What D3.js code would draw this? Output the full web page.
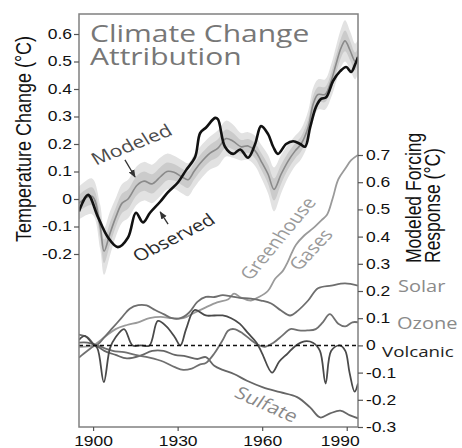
<!DOCTYPE html>
<html>
<head>
<meta charset="utf-8">
<script src="https://cdn.jsdelivr.net/npm/d3@7"></script>
<style>
  body { margin: 0; background: #fff; }
  svg { display: block; }
</style>
</head>
<body>
<div id="container"></div>
<script>
// ---- data ----
const obsYears = [1895, 1898.2, 1901.7, 1905.3, 1908.8, 1912.4, 1915.2, 1917.7, 1920.2, 1923.8, 1926.6, 1930.1, 1933.0, 1936.2, 1938.0, 1940.1, 1943.3, 1944.3, 1946.8, 1949.7, 1952.2, 1955.0, 1957.5, 1959.6, 1962.1, 1963.9, 1965.6, 1968.5, 1971.0, 1973.5, 1975.2, 1977.0, 1979.1, 1980.9, 1982.7, 1985.2, 1987.7, 1989.8, 1991.6, 1993.0, 1994.0];
const obsValues = [-0.045, 0.015, -0.065, -0.14, -0.175, -0.14, -0.05, -0.085, -0.05, -0.01, 0.025, 0.06, 0.105, 0.153, 0.24, 0.26, 0.295, 0.29, 0.19, 0.164, 0.18, 0.15, 0.2, 0.265, 0.236, 0.19, 0.164, 0.2, 0.21, 0.2, 0.19, 0.26, 0.335, 0.364, 0.37, 0.43, 0.465, 0.48, 0.462, 0.49, 0.516];

const modYears = [1895, 1899.6, 1902.5, 1903.9, 1906, 1908.1, 1910.3, 1912.4, 1915.6, 1918.1, 1920.9, 1923.8, 1926.2, 1928.7, 1931.6, 1933.7, 1935.8, 1938, 1941.5, 1944.3, 1947.2, 1949.7, 1952.5, 1955, 1957.5, 1959.6, 1962.1, 1964.2, 1966.7, 1969.2, 1971.7, 1973.8, 1976.3, 1978.1, 1979.8, 1982.3, 1984.5, 1986.2, 1988, 1989.4, 1991.2, 1993, 1994];
const modValues = [-0.015, 0.01, -0.1, -0.19, -0.125, -0.065, -0.015, 0.0, 0.05, 0.065, 0.055, 0.08, 0.1, 0.097, 0.08, 0.07, 0.1, 0.13, 0.167, 0.185, 0.22, 0.21, 0.19, 0.193, 0.175, 0.138, 0.09, 0.035, 0.09, 0.138, 0.175, 0.2, 0.26, 0.345, 0.38, 0.38, 0.43, 0.49, 0.55, 0.575, 0.54, 0.5, 0.52];
const modSpread = [0.06, 0.065, 0.08, 0.085, 0.08, 0.07, 0.07, 0.07, 0.07, 0.07, 0.07, 0.07, 0.065, 0.06, 0.06, 0.06, 0.06, 0.06, 0.06, 0.065, 0.065, 0.06, 0.05, 0.05, 0.055, 0.06, 0.07, 0.08, 0.07, 0.06, 0.055, 0.055, 0.06, 0.06, 0.055, 0.055, 0.06, 0.065, 0.07, 0.075, 0.07, 0.065, 0.06];

const ghgYears = [1895, 1900, 1904, 1908, 1912, 1916, 1920, 1924, 1928, 1932, 1936, 1940, 1944, 1948, 1950, 1952.5, 1956, 1958.5, 1962, 1964.6, 1967.4, 1969, 1970.5, 1972, 1975, 1978, 1981, 1983, 1985, 1987, 1989.5, 1991.5, 1994];
const ghgValues = [-0.005, 0.0, 0.03, 0.06, 0.075, 0.085, 0.1, 0.105, 0.1, 0.1, 0.12, 0.14, 0.158, 0.17, 0.19, 0.176, 0.165, 0.176, 0.2, 0.245, 0.275, 0.305, 0.34, 0.37, 0.405, 0.43, 0.46, 0.48, 0.54, 0.61, 0.65, 0.68, 0.7];

const solarYears = [1895, 1898, 1901, 1904, 1907, 1910, 1913, 1916, 1919, 1922, 1925, 1928, 1931, 1934, 1937, 1940, 1943, 1946, 1949, 1952, 1956, 1959.6, 1963.2, 1966.7, 1969.9, 1972.7, 1976.3, 1979.8, 1984.5, 1989.4, 1994];
const solarValues = [0.04, 0.03, 0.0, 0.03, 0.065, 0.1, 0.135, 0.148, 0.147, 0.13, 0.115, 0.1, 0.1, 0.12, 0.16, 0.178, 0.178, 0.185, 0.18, 0.175, 0.172, 0.165, 0.154, 0.128, 0.11, 0.128, 0.165, 0.21, 0.22, 0.228, 0.22];

const ozoneYears = [1895, 1898, 1901, 1904, 1907, 1911, 1915, 1920, 1925, 1929, 1932, 1935, 1938, 1940, 1943, 1946, 1948, 1950, 1953, 1956, 1959, 1961, 1964, 1967, 1970, 1973, 1976, 1979, 1981.5, 1984, 1987, 1989.5, 1992, 1994];
const ozoneValues = [-0.045, -0.02, 0.0, -0.01, -0.02, -0.025, -0.035, -0.045, -0.06, -0.08, -0.09, -0.085, -0.07, -0.065, -0.03, 0.02, 0.055, 0.06, 0.045, 0.02, 0.0, -0.005, 0.01, 0.035, 0.06, 0.055, 0.055, 0.06, 0.085, 0.115, 0.08, 0.07, 0.085, 0.085];

const volcYears = [1895, 1897, 1899.5, 1901.5, 1903.8, 1906, 1908, 1911, 1914, 1917, 1920, 1923, 1926, 1929, 1931, 1933, 1936, 1940, 1943, 1946, 1949, 1952, 1955, 1958, 1960, 1963.5, 1966, 1969, 1972, 1975, 1978, 1980.5, 1982.5, 1984.5, 1987.5, 1989.5, 1991, 1992.8, 1994];
const volcValues = [0.02, 0.035, 0.01, -0.01, -0.135, -0.01, 0.03, 0.06, 0.0, 0.0, 0.0, 0.09, 0.07, 0.03, 0.0, 0.06, 0.13, 0.11, 0.11, 0.11, 0.1, 0.08, 0.045, 0.01, -0.03, -0.1, -0.06, -0.03, 0.0, 0.015, 0.01, -0.02, -0.14, -0.02, 0.0, -0.02, -0.1, -0.17, -0.14];

const sulfYears = [1895, 1898, 1901, 1904, 1908, 1912, 1917, 1921, 1925, 1929, 1933, 1937, 1940, 1943, 1946, 1950, 1954.6, 1960.3, 1966.4, 1972.4, 1977, 1980.6, 1984.1, 1987.7, 1991.2, 1994];
const sulfValues = [0.01, 0.01, 0.0, -0.02, -0.035, -0.048, -0.037, -0.02, -0.02, -0.035, -0.04, -0.05, -0.043, -0.075, -0.09, -0.105, -0.13, -0.154, -0.172, -0.19, -0.228, -0.265, -0.25, -0.24, -0.257, -0.268];

const xTicks = [1900, 1930, 1960, 1990];
const leftTicks = [-0.2, -0.1, 0, 0.1, 0.2, 0.3, 0.4, 0.5, 0.6];
const rightTicks = [-0.3, -0.2, -0.1, 0, 0.1, 0.2, 0.3, 0.4, 0.5, 0.6, 0.7];

// ---- layout ----
const W = 462, H = 448;
const frame = { left: 79, right: 358, top: 14, bottom: 427 };
const SX = 1.25; // the lettering in the original is drawn a bit wide

const x = d3.scaleLinear().domain([1895, 1994]).range([frame.left, frame.right]);
const yL = d3.scaleLinear().domain([-0.2, 0.6]).range([254, 34]);
const yR = d3.scaleLinear().domain([-0.3, 0.7]).range([427, 155]);

const svg = d3.select("#container").append("svg")
  .attr("width", W).attr("height", H);

const zip = (ys, vs, ss) => ys.map((yr, i) => ({ year: yr, value: vs[i], s: ss ? ss[i] : 0 }));
const curve = d3.curveCatmullRom.alpha(0.5);

svg.append("clipPath").attr("id", "plot-clip")
  .append("rect")
  .attr("x", frame.left).attr("y", frame.top)
  .attr("width", frame.right - frame.left).attr("height", frame.bottom - frame.top);

const plot = svg.append("g").attr("clip-path", "url(#plot-clip)");

// model spread band
const modData = zip(modYears, modValues, modSpread);
[[1, "#e2e2e2"], [0.5, "#cbcbcb"]].forEach(([k, col]) => {
  plot.append("path")
    .datum(modData)
    .attr("fill", col)
    .attr("d", d3.area()
      .x(d => x(d.year))
      .y0(d => yL(d.value - d.s * k))
      .y1(d => yL(d.value + d.s * k))
      .curve(curve));
});

const lineL = d3.line().x(d => x(d.year)).y(d => yL(d.value)).curve(curve);
const lineR = d3.line().x(d => x(d.year)).y(d => yR(d.value)).curve(curve);

plot.append("path").datum(modData)
  .attr("fill", "none").attr("stroke", "#8a8a8a").attr("stroke-width", 1.6)
  .attr("d", lineL);

plot.append("path").datum(zip(obsYears, obsValues))
  .attr("fill", "none").attr("stroke", "#111").attr("stroke-width", 2.6)
  .attr("stroke-linejoin", "round")
  .attr("d", lineL);

// forcing responses
const forcings = [
  { data: zip(ghgYears, ghgValues), color: "#9a9a9a" },
  { data: zip(sulfYears, sulfValues), color: "#666" },
  { data: zip(ozoneYears, ozoneValues), color: "#707070" },
  { data: zip(solarYears, solarValues), color: "#6e6e6e" },
  { data: zip(volcYears, volcValues), color: "#4a4a4a" }
];
forcings.forEach(f => {
  plot.append("path").datum(f.data)
    .attr("fill", "none").attr("stroke", f.color).attr("stroke-width", 1.8)
    .attr("d", lineR);
});

// zero line of the forcing panel
svg.append("line")
  .attr("x1", frame.left).attr("x2", frame.right)
  .attr("y1", yR(0)).attr("y2", yR(0))
  .attr("stroke", "#111").attr("stroke-width", 1.5)
  .attr("stroke-dasharray", "4,3");

// frame
svg.append("rect")
  .attr("x", frame.left).attr("y", frame.top)
  .attr("width", frame.right - frame.left).attr("height", frame.bottom - frame.top)
  .attr("fill", "none").attr("stroke", "#808080").attr("stroke-width", 1.5);

// ---- axes ----
const fmt = v => v === 0 ? "0" : (v < 0 ? "-" : "") + Math.abs(v).toFixed(1);

function stretchTicks(g) {
  g.select(".domain").remove();
  g.selectAll(".tick line").attr("stroke", "#555").attr("stroke-width", 1.2);
  g.selectAll(".tick text").each(function () {
    const t = d3.select(this);
    const tx = +t.attr("x") || 0;
    t.attr("x", tx / SX).attr("transform", `scale(${SX},1)`);
  });
  g.attr("font-family", "'Liberation Sans', Arial, sans-serif")
    .attr("font-size", 14).attr("fill", "#111");
  g.selectAll(".tick text").attr("fill", "#111");
}

svg.append("g")
  .attr("transform", `translate(${frame.left},0)`)
  .call(d3.axisLeft(yL).tickValues(leftTicks).tickFormat(fmt).tickSize(5).tickPadding(2))
  .call(stretchTicks);

svg.append("g")
  .attr("transform", `translate(${frame.right},0)`)
  .call(d3.axisRight(yR).tickValues(rightTicks).tickFormat(fmt).tickSize(5).tickPadding(3))
  .call(stretchTicks);

const xAxis = svg.append("g")
  .attr("transform", `translate(0,${frame.bottom})`)
  .call(d3.axisBottom(x).tickValues(xTicks).tickFormat(d3.format("d")).tickSize(4).tickPadding(5))
  .call(stretchTicks);
// last year label sits a little inside the frame in the original
xAxis.selectAll(".tick text").filter(d => d === 1990).attr("x", -7 / SX);

// ---- text ----
function label(str, cx, cy, angle, opts) {
  let a = angle;
  if (Math.abs(angle) !== 90 && angle !== 0) {
    a = Math.atan(SX * Math.tan(angle * Math.PI / 180)) * 180 / Math.PI;
  }
  return svg.append("text")
    .attr("transform", `translate(${cx},${cy}) scale(${SX},1) rotate(${a})`)
    .attr("text-anchor", opts.anchor || "middle")
    .attr("dominant-baseline", opts.baseline || "auto")
    .attr("font-family", opts.family || "'Open Sans', 'DejaVu Sans', sans-serif")
    .attr("font-size", opts.size)
    .attr("font-weight", opts.weight || 400)
    .attr("fill", opts.fill)
    .text(str);
}

const sans = "'Liberation Sans', Arial, sans-serif";

label("Climate Change", 90, 42, 0, { anchor: "start", size: 24, fill: "#777" });
label("Attribution", 90, 65, 0, { anchor: "start", size: 24, fill: "#777" });

label("Temperature Change (°C)", 31, 139, -90, { size: 18, fill: "#111", family: sans });
label("Modeled Forcing", 421, 263, -90, { anchor: "start", size: 17.5, fill: "#111", family: sans });
label("Response (°C)", 440, 263, -90, { anchor: "start", size: 17.5, fill: "#111", family: sans });

label("Solar", 398, yR(0.2) + 1, 0, { anchor: "start", size: 16, fill: "#8a8a8a" });
label("Ozone", 397, yR(0.1) + 11, 0, { anchor: "start", size: 16, fill: "#8a8a8a" });
label("Volcanic", 382, yR(0) + 12, 0, { anchor: "start", size: 15, fill: "#222" });

label("Greenhouse", x(1965.3), yR(0.395), -50, { size: 16.5, fill: "#9a9a9a", baseline: "central" });
label("Gases", x(1977), yR(0.354), -47, { size: 16.5, fill: "#9a9a9a", baseline: "central" });
label("Sulfate", x(1961.7), yR(-0.215), 24, { size: 17, fill: "#888", baseline: "central" });

label("Modeled", x(1913.5), yL(0.2), -22, { size: 17, fill: "#4a4a4a", weight: 500, baseline: "central" });
label("Observed", x(1928.4), yL(-0.138), -27, { size: 16.5, fill: "#2a2a2a", weight: 500, baseline: "central" });

// arrows
svg.append("defs").append("marker")
  .attr("id", "head").attr("viewBox", "0 0 10 10")
  .attr("refX", 9).attr("refY", 5)
  .attr("markerWidth", 6).attr("markerHeight", 6)
  .attr("orient", "auto")
  .append("path").attr("d", "M0,1 L10,5 L0,9 Z").attr("fill", "#333");

const arrows = [
  { from: [1911.3, 0.142], to: [1914.9, 0.08] },
  { from: [1926.6, -0.091], to: [1923.8, -0.047] }
];
arrows.forEach(a => {
  svg.append("line")
    .attr("x1", x(a.from[0])).attr("y1", yL(a.from[1]))
    .attr("x2", x(a.to[0])).attr("y2", yL(a.to[1]))
    .attr("stroke", "#333").attr("stroke-width", 1.3)
    .attr("marker-end", "url(#head)");
});
</script>
</body>
</html>
